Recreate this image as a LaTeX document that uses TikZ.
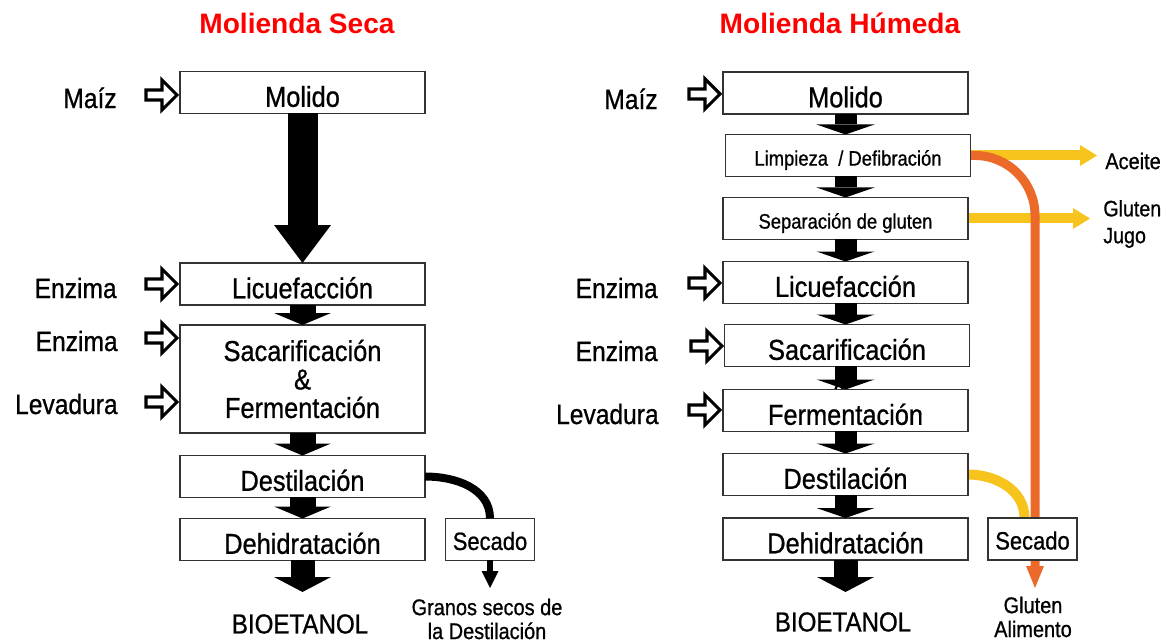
\documentclass[tikz,border=0pt]{standalone}
\usepackage{fontspec}
\setmainfont{Liberation Sans}
\newfontfamily\narrowfont{Liberation Sans}[FakeStretch=0.88, FakeBold=0.8]
\usetikzlibrary{arrows.meta,backgrounds}

\definecolor{gold}{HTML}{F6C41C}
\definecolor{rust}{HTML}{EB6A2A}

\newcommand{\stagefont}{\narrowfont\fontsize{16.4}{16.2}\selectfont}
\newcommand{\inputfont}{\narrowfont\fontsize{15.9}{18}\selectfont}
\newcommand{\dryerfont}{\narrowfont\fontsize{14.2}{16}\selectfont}
\newcommand{\smallstagefont}{\narrowfont\fontsize{11.9}{14}\selectfont}
\newcommand{\outputfont}{\narrowfont\fontsize{12.9}{13.6}\selectfont}
\newcommand{\jugofont}{\narrowfont\fontsize{12.7}{15.3}\selectfont}
\newcommand{\productfont}{\narrowfont\fontsize{15.6}{18}\selectfont}
\newcommand{\titlefont}{\bfseries\fontsize{16}{18}\selectfont}

\tikzset{
	headline/.style={text=red, inner sep=0pt, font=\titlefont},
	stage/.style={draw=black!80, line width=0.7pt, fill=white, minimum width=4.9cm,
		minimum height=0.84cm, inner sep=0pt, outer sep=0pt, text height=16.3pt,
		text depth=0pt, font=\stagefont},
	smallstage/.style={stage, text height=11.5pt, font=\smallstagefont},
	dryer/.style={stage, minimum width=1.77cm, text height=11.9pt, font=\dryerfont},
	feedlabel/.style={anchor=east, inner sep=0pt, text height=11.4pt, text depth=0pt,
		font=\inputfont},
	product/.style={inner sep=0pt, font=\productfont},
	byproduct/.style={inner sep=0pt, align=center, font=\outputfont},
	flowL/.style={line width=0.52cm, -{Triangle[width=1.14cm, length=0.24cm, line width=0pt]}},
	flowR/.style={line width=0.44cm, -{Triangle[width=1.16cm, length=0.2cm, line width=0pt]}},
	sideflow/.style={gold, line width=0.2cm, -{Triangle[width=0.42cm, length=0.34cm, line width=0pt]}},
	feed/.pic={\draw[line width=1.8pt, fill=white, line join=miter] (-3,0) -- (-18,-15)
		-- (-18,-5) -- (-34,-5) -- (-34,5) -- (-18,5) -- (-18,15) -- cycle;}
}

\begin{document}
\begin{tikzpicture}[x=0.02cm, y=-0.02cm]
	% Paths, nodes and wires:
	\useasboundingbox (0,0) rectangle (1170,644);
	\node[headline] (seca) at (297,23) {Molienda Seca};
	\node[headline] (humeda) at (840,23) {Molienda Húmeda};

	% dry milling
	\node[stage] (molL) at (302.5,92.5) {Molido};
	\node[stage] (licL) at (302.5,284) {Licuefacción};
	\node[stage, minimum height=2.16cm, align=center, text height={}, text depth={}]
		(sacL) at (302.5,379) {Sacarificación\\\&\\Fermentación};
	\node[stage] (destL) at (302.5,476.5) {Destilación};
	\node[stage] (dehL) at (302.5,539.5) {Dehidratación};
	\node[dryer] (secL) at (490,539.5) {Secado};
	\node[product] (bioL) at (300,624) {BIOETANOL};
	\node[byproduct] (granos) at (487,619) {Granos secos de\\la Destilación};
	\coordinate (bioLtip) at (302.5,592);
	\coordinate (granosTip) at (490,588);

	\node[feedlabel] (maizL) at (117,98) {Maíz};
	\node[feedlabel] (enzL1) at (117,288) {Enzima};
	\node[feedlabel] (enzL2) at (118,341) {Enzima};
	\node[feedlabel] (levL) at (118,404) {Levadura};
	\pic at (180,95) {feed};
	\pic at (180,284) {feed};
	\pic at (180,338) {feed};
	\pic at (180,402) {feed};

	\draw[flowL, line width=0.6cm, -{Triangle[width=1.14cm, length=0.76cm, line width=0pt]}] (molL) -- (licL);
	\draw[flowL] (licL) -- (sacL);
	\draw[flowL] (sacL) -- (destL);
	\draw[flowL] (destL) -- (dehL);
	\draw[flowL, line width=0.48cm, -{Triangle[width=1.14cm, length=0.3cm, line width=0pt]}] (dehL) -- (bioLtip);
	\draw[line width=0.16cm] (destL.east) to[out=0, in=90] (secL.north);
	\draw[line width=0.11cm, -{Triangle[width=0.34cm, length=0.34cm, line width=0pt]}] (secL) -- (granosTip);

	% wet milling
	\node[stage] (molR) at (845.5,93) {Molido};
	\node[smallstage] (limR) at (848,155.5) {Limpieza \ / Defibración};
	\node[smallstage] (sepR) at (845.5,218.5) {Separación de gluten};
	\node[stage] (licR) at (845.5,282.5) {Licuefacción};
	\node[stage] (sacR) at (847,345.5) {Sacarificación};
	\node[stage] (ferR) at (845.5,410.5) {Fermentación};
	\node[stage] (destR) at (845.5,474.5) {Destilación};
	\node[stage] (dehR) at (845.5,539) {Dehidratación};
	\node[dryer, minimum width=1.78cm] (secR) at (1032.5,539) {Secado};
	\node[product] (bioR) at (843,622) {BIOETANOL};
	\node[byproduct] (alimento) at (1033,617) {Gluten\\Alimento};
	\node[byproduct, anchor=west] (aceite) at (1105,161) {Aceite};
	\node[byproduct, anchor=west, align=left, font=\jugofont] (jugo) at (1103,224) {Gluten\\Jugo};
	\coordinate (bioRtip) at (845.5,592);
	\coordinate (aceiteTip) at (1097,155.5);
	\coordinate (jugoTip) at (1090,218.5);
	\coordinate (alimentoTip) at (1035,588);
	\coordinate (drop) at ([xshift=-0.16cm]secR.north);

	\node[feedlabel] (maizR) at (658,99) {Maíz};
	\node[feedlabel] (enzR1) at (658,288) {Enzima};
	\node[feedlabel] (enzR2) at (658,351) {Enzima};
	\node[feedlabel] (levR) at (659,414) {Levadura};
	\pic at (723,94) {feed};
	\pic at (723,283) {feed};
	\pic at (725,346) {feed};
	\pic at (723,410) {feed};

	\draw[flowR] (molR) -- (limR.north -| molR);
	\draw[flowR] (limR.south -| molR) -- (sepR);
	\draw[flowR] (sepR) -- (licR);
	\draw[flowR] (licR) -- (sacR.north -| licR);
	\draw[flowR] (sacR.south -| licR) -- (ferR);
	\draw[flowR] (ferR) -- (destR);
	\draw[flowR] (destR) -- (dehR);
	\draw[flowR, line width=0.48cm, -{Triangle[width=1.14cm, length=0.3cm, line width=0pt]}] (dehR) -- (bioRtip);

	\begin{scope}[on background layer]
		\node[inner sep=0pt, font=\stagefont] (ampR) at (842,385) {\&};
		\draw[sideflow] (limR.east) -- (aceiteTip);
		\draw[sideflow] (sepR.east) -- (jugoTip);
		\draw[gold, line width=0.2cm] (destR.east) to[out=0, in=90] (drop);
		\draw[rust, line width=0.18cm, rounded corners=1.2cm, -{Triangle[width=0.36cm, length=0.44cm, line width=0pt]}]
			(limR.east) -| (alimentoTip);
	\end{scope}
\end{tikzpicture}
\end{document}
